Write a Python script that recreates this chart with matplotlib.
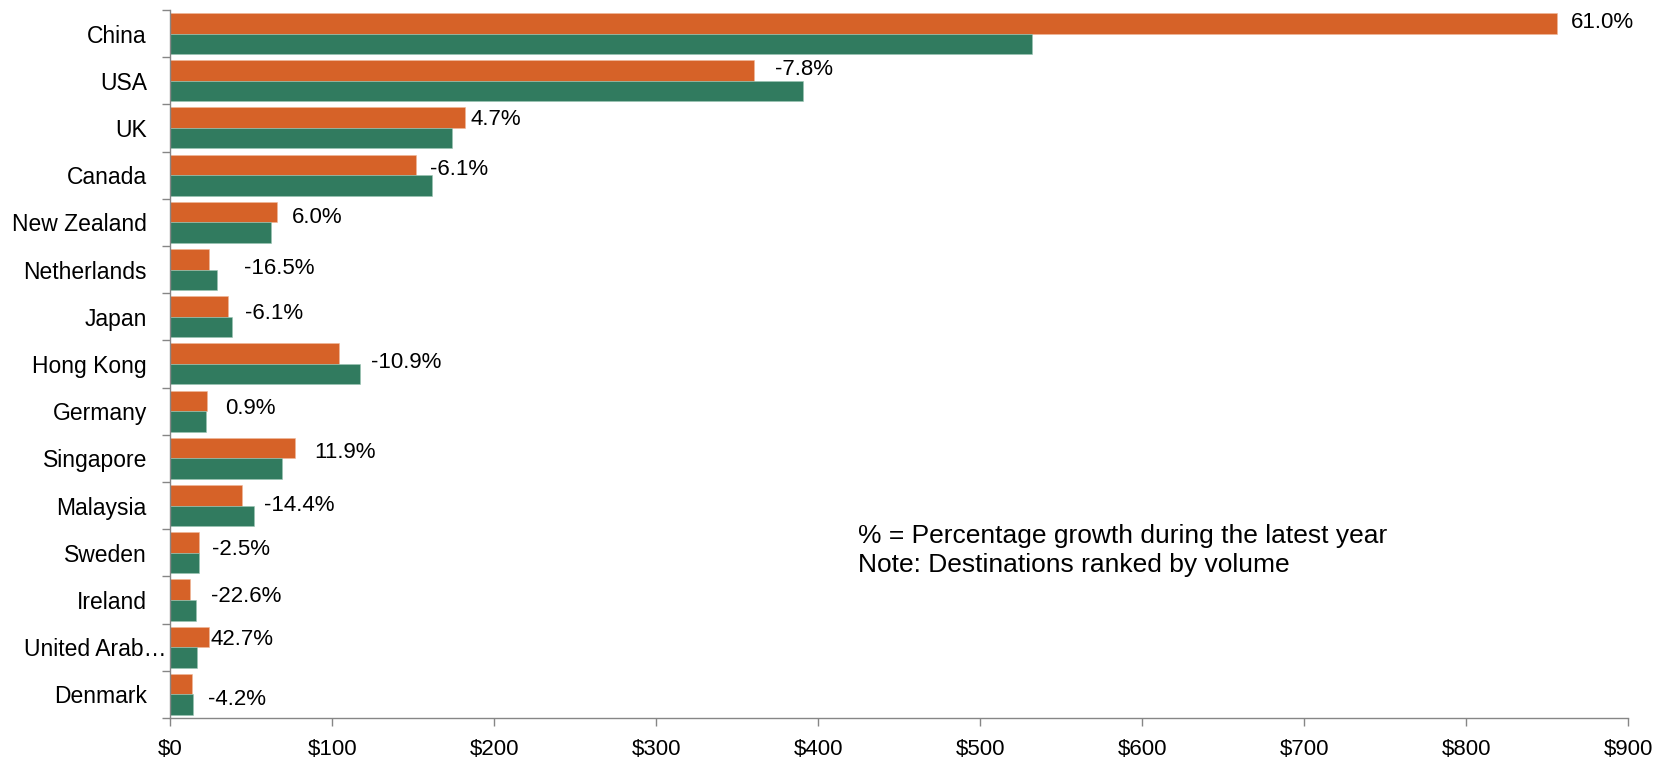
import numpy as np
import matplotlib
matplotlib.use("Agg")
import matplotlib.pyplot as plt
from matplotlib.ticker import FixedLocator, FuncFormatter
from matplotlib.transforms import ScaledTranslation

# destinations, ranked by volume
countries = ["China", "USA", "UK", "Canada", "New Zealand", "Netherlands", "Japan",
             "Hong Kong", "Germany", "Singapore", "Malaysia", "Sweden", "Ireland",
             "United Arab\u2026", "Denmark"]
# latest year (orange) and previous year (green)
latest = [856, 360, 182, 151.5, 65.7, 23.8, 35.8, 104.3, 22.3, 77, 44.3, 17.5, 12, 23.6, 13.4]
previous = [531.5, 390.5, 174, 161.5, 62, 28.5, 38.1, 117, 22.1, 68.8, 51.7, 17.9, 15.5, 16.5, 14.0]
growth = [61.0, -7.8, 4.7, -6.1, 6.0, -16.5, -6.1, -10.9, 0.9, 11.9, -14.4, -2.5, -22.6, 42.7, -4.2]
x_ticks = [0, 100, 200, 300, 400, 500, 600, 700, 800, 900]

# nudges (points) for the growth labels, measured from the end of the orange bar
label_dx = [10, 15.5, 4, 10.5, 11, 25, 12, 23, 13.5, 13.5, 16, 9.5, 15, 1.5, 11.5]
label_dy = [8.5, 9, 6.5, 5, 4, 1.5, 3, 1.5, 2.5, 5, 1, 3, 3.5, 6, -3]

ORANGE = "#D66228"
GREEN = "#317B5F"
AXIS = "#868686"

plt.rcParams["font.family"] = ["Liberation Sans", "DejaVu Sans"]

fig = plt.figure(figsize=(16.73, 7.6), dpi=100)
ax = fig.add_axes([0.1019, 0.0553, 0.8715, 0.9316])

y = np.arange(len(countries))
h = 0.435
ax.barh(y - h / 2, latest, height=h, color=ORANGE, edgecolor="#F0B89A", linewidth=0.4)
ax.barh(y + h / 2, previous, height=h, color=GREEN, edgecolor="#9CC5B4", linewidth=0.4)

for i, g in enumerate(growth):
    ax.annotate(f"{g:.1f}%", xy=(latest[i], y[i] + 0.02), xytext=(label_dx[i], label_dy[i]),
                textcoords="offset points", ha="left", va="center", fontsize=16, color="black")

ax.set_xlim(0, 900)
ax.set_ylim(len(countries) - 0.5, -0.5)

ax.xaxis.set_major_locator(FixedLocator(x_ticks))
ax.xaxis.set_major_formatter(FuncFormatter(lambda v, p: f"${v:.0f}"))
ax.tick_params(axis="x", length=6, width=1, color=AXIS, pad=9, labelsize=16)

ax.set_yticks(y)
ax.set_yticklabels(countries)
ax.set_yticks(np.arange(len(countries) + 1) - 0.5, minor=True)
ax.tick_params(axis="y", which="major", length=0, pad=17, labelsize=16.5)
ax.tick_params(axis="y", which="minor", length=6, width=1, color=AXIS)

# the truncated name sits closer to the axis
uae = ax.get_yticklabels()[13]
uae.set_transform(uae.get_transform() + ScaledTranslation(14 / 72, 0, fig.dpi_scale_trans))

for side in ["top", "right"]:
    ax.spines[side].set_visible(False)
for side in ["left", "bottom"]:
    ax.spines[side].set_color(AXIS)
    ax.spines[side].set_linewidth(1)

fig.text(0.513, 0.2859, "% = Percentage growth during the latest year", fontsize=19, va="baseline")
fig.text(0.513, 0.2478, "Note: Destinations ranked by volume", fontsize=19, va="baseline")

fig.savefig("out.png", dpi=100)
